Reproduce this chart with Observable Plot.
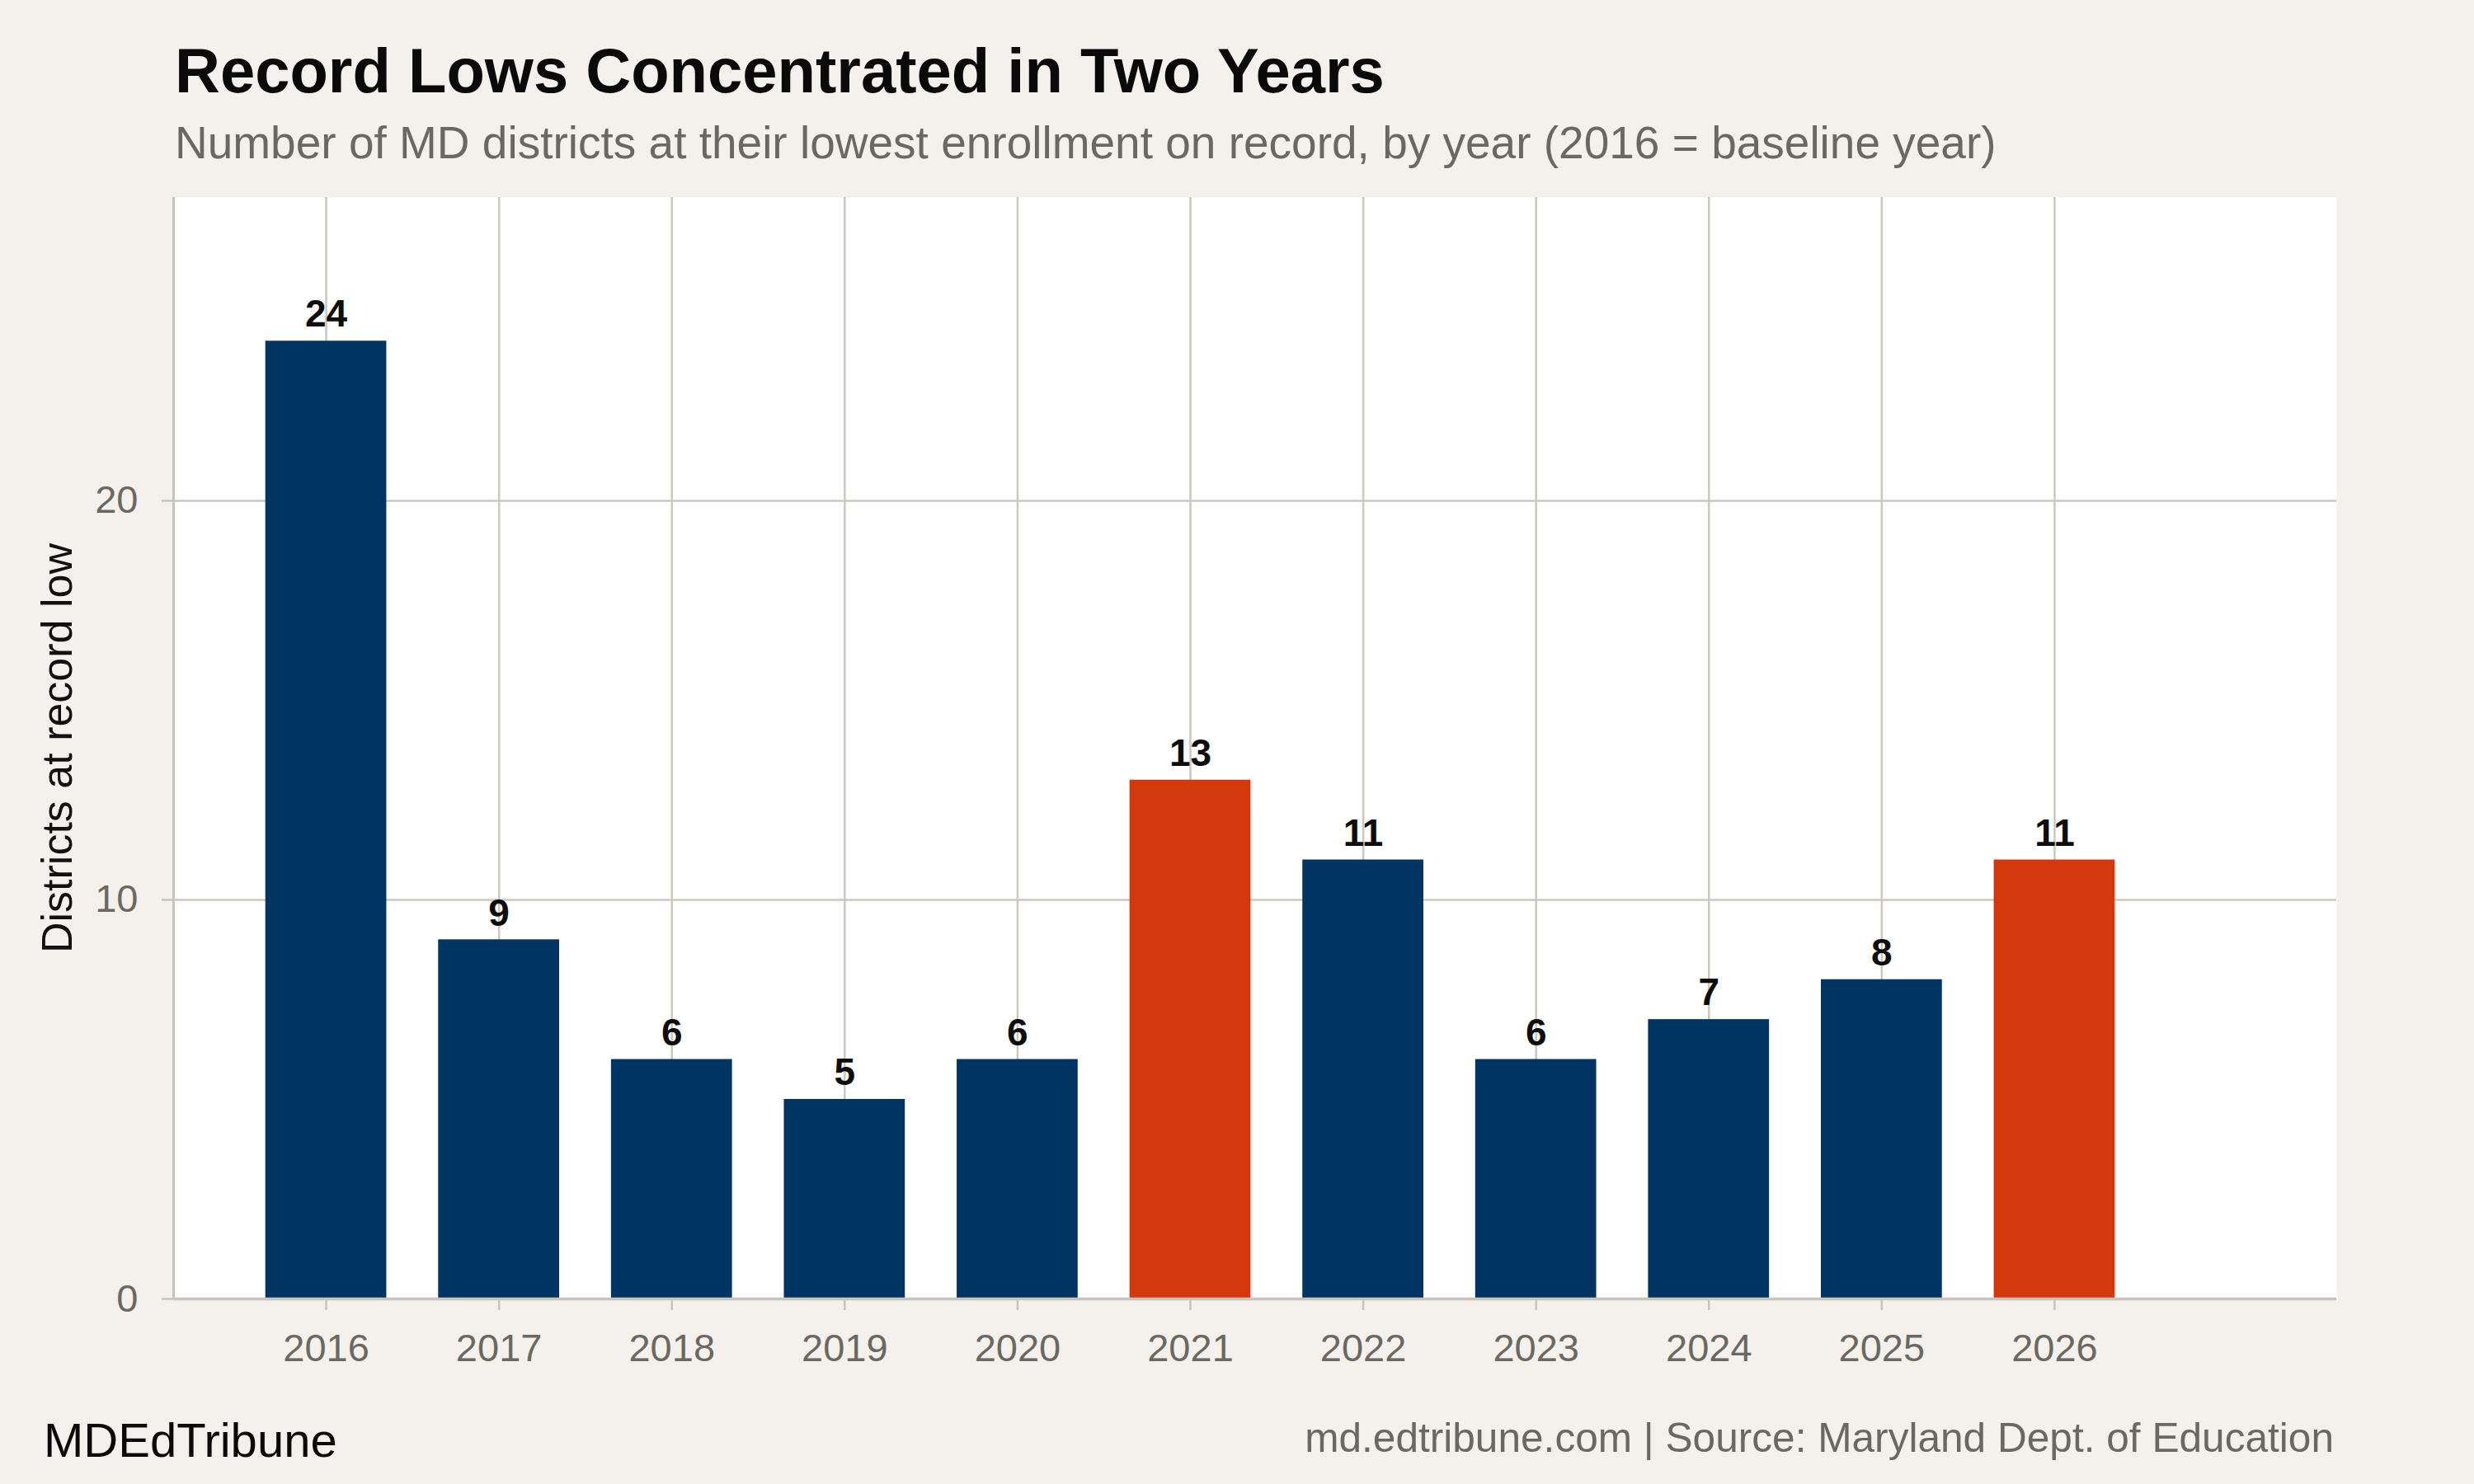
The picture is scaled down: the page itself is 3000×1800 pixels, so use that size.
<!DOCTYPE html>
<html>
<head>
<meta charset="utf-8">
<script src="https://cdn.jsdelivr.net/npm/d3@7"></script>
<script src="https://cdn.jsdelivr.net/npm/@observablehq/plot@0.6"></script>
<style>
  html, body { margin: 0; padding: 0; }
  body { width: 3000px; height: 1800px; background: #F4F1EC; position: relative; overflow: hidden; font-family: "Liberation Sans", Arial, Helvetica, sans-serif; }
  .t { position: absolute; line-height: 1; white-space: nowrap; }
  #title { left: 212px; top: 48px; font-size: 76px; font-weight: bold; color: #0a0a0a; }
  #subtitle { left: 212px; top: 145.5px; font-size: 55px; color: #6b6862; }
  #brand { left: 53px; top: 1718px; font-size: 58px; color: #0a0a0a; }
  #caption { right: 170px; top: 1720px; font-size: 49.6px; color: #6b6862; }
  #chart { position: absolute; left: 0; top: 200px; }
</style>
</head>
<body>
<div class="t" id="title">Record Lows Concentrated in Two Years</div>
<div class="t" id="subtitle">Number of MD districts at their lowest enrollment on record, by year (2016 = baseline year)</div>
<div id="chart"></div>
<div class="t" id="brand">MDEdTribune</div>
<div class="t" id="caption">md.edtribune.com | Source: Maryland Dept. of Education</div>
<script>
// Data
const years = [2016, 2017, 2018, 2019, 2020, 2021, 2022, 2023, 2024, 2025, 2026];
const counts = [24, 9, 6, 5, 6, 13, 11, 6, 7, 8, 11];
const highlightYears = [2021, 2026];
const yTicks = [0, 10, 20];
const yLabel = "Districts at record low";

const NAVY = "#003462";
const ORANGE = "#D4380D";
const GRID = "#CCC8C0";
const AXIS = "#C8C4BC";
const TEXT_GRAY = "#6b6862";

const data = years.map((year, i) => ({year, count: counts[i], hi: highlightYears.includes(year)}));
const half = 0.35;
const xDomain = [years[0] - 0.883, years[years.length - 1] + 1.632];

const chart = Plot.plot({
  width: 3000,
  height: 1500,
  marginTop: 39,
  marginBottom: 125,
  marginLeft: 210,
  marginRight: 167,
  style: { background: "transparent", fontFamily: "Liberation Sans, Arial, Helvetica, sans-serif", overflow: "visible" },
  x: { type: "linear", domain: xDomain, axis: null },
  y: { domain: [0, 27.6], axis: null },
  marks: [
    Plot.frame({ fill: "white", stroke: null }),
    Plot.gridX(years, { stroke: GRID, strokeOpacity: 1, strokeWidth: 2.5 }),
    Plot.gridY([10, 20], { stroke: GRID, strokeOpacity: 1, strokeWidth: 2.5 }),
    Plot.rectY(data, {
      x1: d => d.year - half,
      x2: d => d.year + half,
      y1: 0,
      y2: "count",
      fill: d => d.hi ? ORANGE : NAVY
    }),
    Plot.text(data, {
      x: "year", y: "count", text: d => String(d.count),
      dy: -32, lineAnchor: "middle", fontSize: 46, fontWeight: "bold", fill: "#0d0d0d"
    }),
    Plot.ruleX([xDomain[0]], { stroke: AXIS, strokeWidth: 3 }),
    Plot.ruleY([0], { stroke: AXIS, strokeWidth: 3.5 }),
    Plot.axisX(years, {
      tickSize: 14, tickPadding: 28, fontSize: 47, fill: TEXT_GRAY, stroke: AXIS, strokeWidth: 2.5,
      tickFormat: d => `${d}`, label: null
    }),
    Plot.axisY(yTicks, {
      tickSize: 14, tickPadding: 29, fontSize: 47, fill: TEXT_GRAY, stroke: AXIS, strokeWidth: 2.5,
      tickFormat: d => `${d}`, label: null
    }),
    Plot.text([yLabel], {
      frameAnchor: "left", rotate: -90, dx: -140, fontSize: 52, fill: "#111",
      textAnchor: "middle", lineAnchor: "middle"
    })
  ]
});
document.getElementById("chart").appendChild(chart);
</script>
</body>
</html>
